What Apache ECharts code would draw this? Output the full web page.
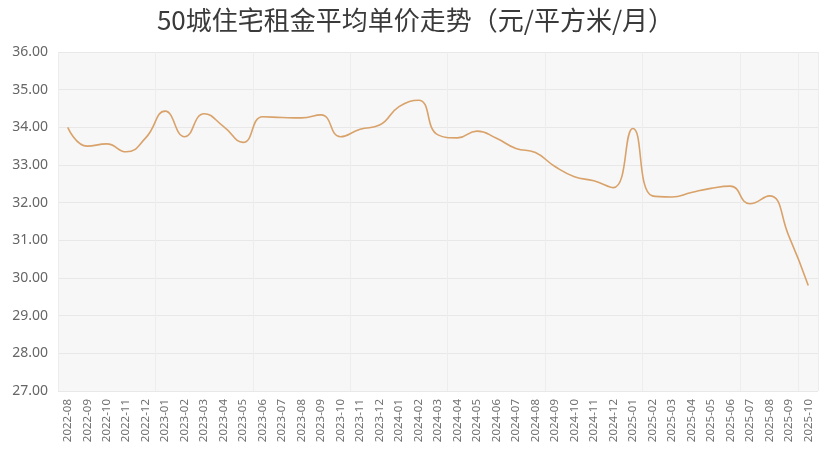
<!DOCTYPE html>
<html><head><meta charset="utf-8">
<script src="https://cdn.jsdelivr.net/npm/echarts@6/dist/echarts.min.js"></script>
<style>html,body{margin:0;padding:0;background:#fff}#c{width:831px;height:462px}</style>
</head><body><div id="c"></div>
<script>
var titleText = '50城住宅租金平均单价走势（元/平方米/月）';
var months = ['2022-08','2022-09','2022-10','2022-11','2022-12','2023-01','2023-02','2023-03','2023-04','2023-05','2023-06','2023-07','2023-08','2023-09','2023-10','2023-11','2023-12','2024-01','2024-02','2024-03','2024-04','2024-05','2024-06','2024-07','2024-08','2024-09','2024-10','2024-11','2024-12','2025-01','2025-02','2025-03','2025-04','2025-05','2025-06','2025-07','2025-08','2025-09','2025-10'];
var rent = [34.00,33.50,33.56,33.35,33.72,34.43,33.75,34.36,34.02,33.60,34.28,34.26,34.25,34.33,33.75,33.95,34.06,34.55,34.72,33.80,33.72,33.90,33.71,33.44,33.33,32.96,32.69,32.58,32.40,33.97,32.18,32.15,32.27,32.38,32.44,31.97,32.18,31.12,29.80];
var yMin = 27, yMax = 36, yStep = 1;

var chart = echarts.init(document.getElementById('c'));
chart.setOption({
  animation: false,
  backgroundColor: '#ffffff',
  title: {
    text: titleText, left: 'center', top: 2,
    textStyle: {fontSize: 26, fontWeight: 'normal', color: '#3a3a3a', fontFamily: 'Noto Sans CJK SC'}
  },
  grid: {left: 58, right: 13, top: 52, bottom: 71, show: true, backgroundColor: '#f7f7f7', borderWidth: 0},
  xAxis: {
    type: 'category', data: months, boundaryGap: true,
    axisLine: {show: false}, axisTick: {show: false},
    axisLabel: {rotate: 90, interval: 0, color: '#707070', fontSize: 11.5, margin: 8, fontFamily: 'Noto Sans'},
    splitLine: {show: true, interval: 4, lineStyle: {color: '#ededed', width: 1}}
  },
  yAxis: {
    type: 'value', min: yMin, max: yMax, interval: yStep,
    axisLine: {show: false}, axisTick: {show: false},
    axisLabel: {color: '#666', fontSize: 14, margin: 10, formatter: function(v){return v.toFixed(2);}, fontFamily: 'Noto Sans'},
    splitLine: {show: true, lineStyle: {color: '#e8e8e8', width: 1}}
  },
  series: [{
    type: 'line', data: rent, smooth: 0.5, symbol: 'none',
    lineStyle: {color: '#d9a26a', width: 1.6}
  }]
});
</script></body></html>
